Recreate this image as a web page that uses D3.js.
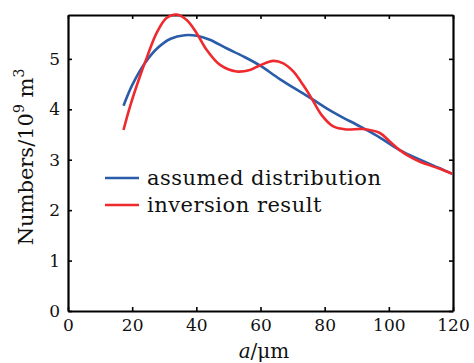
<!DOCTYPE html>
<html><head><meta charset="utf-8">
<script src="https://cdn.jsdelivr.net/npm/d3@7"></script>
<style>body{margin:0;background:#fff;} svg{display:block;}</style>
</head><body>
<script>
const blueX = [17.3, 20, 24, 28, 32, 36.4, 40.1, 44.2, 49.4, 54.6, 59.8, 66, 72.3, 76.4, 80.6, 84.7, 91, 97.2, 103.4, 109.7, 115.9, 119.8];
const blueY = [4.07, 4.48, 4.92, 5.22, 5.40, 5.47, 5.46, 5.38, 5.21, 5.05, 4.87, 4.6, 4.35, 4.19, 4.02, 3.87, 3.66, 3.44, 3.19, 3.0, 2.83, 2.72];
const redX = [17.3, 19.3, 22.4, 24.7, 27.6, 30.7, 33.9, 37, 40.1, 43.2, 47.4, 52.6, 56.7, 59.8, 64, 67.1, 70.2, 73.3, 75.9, 79, 82.7, 86.8, 92, 97.2, 100.3, 103.4, 106.5, 109.7, 115.9, 119.8];
const redY = [3.59, 4.05, 4.65, 5.05, 5.51, 5.81, 5.88, 5.77, 5.51, 5.18, 4.88, 4.75, 4.78, 4.87, 4.96, 4.91, 4.75, 4.48, 4.22, 3.89, 3.66, 3.6, 3.61, 3.53, 3.36, 3.19, 3.06, 2.96, 2.82, 2.72];
const xTicks = [0, 20, 40, 60, 80, 100, 120];
const yTicks = [0, 1, 2, 3, 4, 5];
const seriesNames = ["assumed distribution", "inversion result"];
const seriesColors = ["#2a5caa", "#ee2a2e"];

const W = 474, H = 363;
const m = {l: 68, r: 21, t: 15, b: 52};
const svg = d3.select("body").append("svg").attr("width", W).attr("height", H);
const x = d3.scaleLinear().domain([0, 120]).range([m.l, W - m.r]);
const y = d3.scaleLinear().domain([0, 5.87]).range([H - m.b, m.t]);
const font = "'DejaVu Serif', 'Liberation Serif', serif";

const gB = svg.append("g").attr("transform", `translate(0,${H - m.b})`)
  .call(d3.axisBottom(x).tickValues(xTicks).tickSizeInner(-4).tickSizeOuter(0).tickPadding(8).tickFormat(d3.format("d")));
const gT = svg.append("g").attr("transform", `translate(0,${m.t})`)
  .call(d3.axisTop(x).tickValues(xTicks).tickSizeInner(-4).tickSizeOuter(0).tickFormat(""));
const gL = svg.append("g").attr("transform", `translate(${m.l},0)`)
  .call(d3.axisLeft(y).tickValues(yTicks).tickSizeInner(-4).tickSizeOuter(0).tickPadding(8).tickFormat(d3.format("d")));
const gR = svg.append("g").attr("transform", `translate(${W - m.r},0)`)
  .call(d3.axisRight(y).tickValues(yTicks).tickSizeInner(-4).tickSizeOuter(0).tickFormat(""));
[gB, gT, gL, gR].forEach(g => {
  g.select(".domain").attr("stroke", "#000").attr("stroke-width", 2.2);
  g.selectAll(".tick line").attr("stroke", "#000").attr("stroke-width", 1.6);
  g.selectAll("text").attr("font-family", font).attr("font-size", 17).attr("fill", "#111");
});

const line = d3.line().x(d => x(d[0])).y(d => y(d[1])).curve(d3.curveCatmullRom.alpha(0.5));
const data = [d3.zip(blueX, blueY), d3.zip(redX, redY)];
data.forEach((d, i) => {
  svg.append("path").datum(d).attr("d", line).attr("fill", "none")
    .attr("stroke", seriesColors[i]).attr("stroke-width", 2.6).attr("stroke-linejoin", "round");
});

seriesNames.forEach((n, i) => {
  const ly = 178 + i * 27;
  svg.append("line").attr("x1", 105).attr("x2", 139).attr("y1", ly).attr("y2", ly)
    .attr("stroke", seriesColors[i]).attr("stroke-width", 2.6);
  svg.append("text").attr("x", 147).attr("y", ly + 7).text(n)
    .attr("font-family", font).attr("font-size", 21).attr("letter-spacing", 0.5).attr("fill", "#111");
});

const xl = svg.append("text").attr("x", 264).attr("y", 358).attr("text-anchor", "middle")
  .attr("font-family", font).attr("font-size", 20).attr("fill", "#111");
xl.append("tspan").attr("font-style", "italic").text("a");
xl.append("tspan").text("/μm");

const yl = svg.append("text").attr("transform", `translate(33,157) rotate(-90)`)
  .attr("text-anchor", "middle").attr("font-family", font).attr("font-size", 21).attr("fill", "#111");
yl.append("tspan").text("Numbers/10");
yl.append("tspan").attr("font-size", 14).attr("dy", -9).text("9");
yl.append("tspan").attr("dy", 9).text(" m");
yl.append("tspan").attr("font-size", 14).attr("dy", -9).text("3");
</script>
</body></html>
